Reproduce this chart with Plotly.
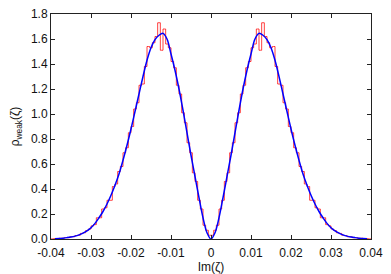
import plotly.graph_objects as go

# Smooth theory curve
curve_x = [-0.039, -0.038, -0.037, -0.036, -0.035, -0.034, -0.033, -0.032, -0.031, -0.030,
           -0.029, -0.028, -0.027, -0.026, -0.025, -0.024, -0.023, -0.022, -0.021, -0.020,
           -0.019, -0.018, -0.017, -0.016, -0.015, -0.014, -0.013, -0.012, -0.011, -0.010,
           -0.009, -0.008, -0.007, -0.006, -0.005, -0.004, -0.003, -0.002, -0.001, 0.000,
           0.001, 0.002, 0.003, 0.004, 0.005, 0.006, 0.007, 0.008, 0.009, 0.010,
           0.011, 0.012, 0.013, 0.014, 0.015, 0.016, 0.017, 0.018, 0.019, 0.020,
           0.021, 0.022, 0.023, 0.024, 0.025, 0.026, 0.027, 0.028, 0.029, 0.030,
           0.031, 0.032, 0.033, 0.034, 0.035, 0.036, 0.037, 0.038, 0.039]
curve_y = [0.002, 0.004, 0.007, 0.011, 0.016, 0.023, 0.033, 0.047, 0.065, 0.090,
           0.125, 0.170, 0.220, 0.280, 0.350, 0.430, 0.520, 0.630, 0.750, 0.880,
           1.020, 1.160, 1.300, 1.430, 1.530, 1.595, 1.630, 1.645, 1.600, 1.480,
           1.350, 1.200, 1.030, 0.850, 0.670, 0.500, 0.330, 0.170, 0.050, 0.000,
           0.050, 0.170, 0.330, 0.500, 0.670, 0.850, 1.030, 1.200, 1.350, 1.480,
           1.600, 1.645, 1.630, 1.595, 1.530, 1.430, 1.300, 1.160, 1.020, 0.880,
           0.750, 0.630, 0.520, 0.430, 0.350, 0.280, 0.220, 0.170, 0.125, 0.090,
           0.065, 0.047, 0.033, 0.023, 0.016, 0.011, 0.007, 0.004, 0.002]

# Histogram: 120 bins on [-0.04, 0.04]
bin_lo = -0.04
bin_hi = 0.04
n_bins = 120
hist_pos = [0.03, 0.07, 0.11, 0.24, 0.31, 0.46, 0.53, 0.69, 0.77, 0.93,
            1.01, 1.16, 1.23, 1.37, 1.42, 1.53, 1.56, 1.68, 1.51, 1.73,
            1.62, 1.57, 1.53, 1.54, 1.38, 1.24, 1.23, 1.09, 1.04, 0.90,
            0.85, 0.73, 0.69, 0.58, 0.54, 0.44, 0.42, 0.31, 0.31, 0.25,
            0.24, 0.17, 0.17, 0.115, 0.105, 0.08, 0.068, 0.05, 0.045, 0.03,
            0.028, 0.018, 0.018, 0.010, 0.011, 0.006, 0.006, 0.003, 0.003, 0.001]
hist_neg = [0.001, 0.003, 0.003, 0.006, 0.006, 0.011, 0.010, 0.018, 0.018, 0.028,
            0.03, 0.045, 0.05, 0.068, 0.08, 0.105, 0.115, 0.17, 0.17, 0.24,
            0.25, 0.31, 0.31, 0.42, 0.44, 0.54, 0.58, 0.69, 0.73, 0.85,
            0.90, 1.04, 1.09, 1.23, 1.24, 1.38, 1.54, 1.53, 1.57, 1.62,
            1.73, 1.51, 1.68, 1.56, 1.53, 1.42, 1.37, 1.23, 1.16, 1.01,
            0.93, 0.77, 0.69, 0.53, 0.46, 0.31, 0.24, 0.11, 0.07, 0.03]
hist_y = hist_neg + hist_pos

x_ticks = [-0.04, -0.03, -0.02, -0.01, 0, 0.01, 0.02, 0.03, 0.04]
x_tick_labels = ["-0.04", "-0.03", "-0.02", "-0.01", "0", "0.01", "0.02", "0.03", "0.04"]
y_ticks = [0.0, 0.2, 0.4, 0.6, 0.8, 1.0, 1.2, 1.4, 1.6, 1.8]
y_tick_labels = ["0.0", "0.2", "0.4", "0.6", "0.8", "1.0", "1.2", "1.4", "1.6", "1.8"]

w = (bin_hi - bin_lo) / n_bins
centers = [bin_lo + (i + 0.5) * w for i in range(n_bins)]
hx = [bin_lo] + centers + [bin_hi]
hy = [0.0] + hist_y + [0.0]

fig = go.Figure()
fig.add_trace(go.Scatter(x=hx, y=hy, mode="lines", line_shape="hvh",
                         line=dict(color="rgba(255,0,0,0.75)", width=1),
                         hoverinfo="skip", showlegend=False))
fig.add_trace(go.Scatter(x=curve_x, y=curve_y, mode="lines", line_shape="spline",
                         line=dict(color="#0000ff", width=1.5),
                         showlegend=False))

axis_common = dict(showline=True, linecolor="#222222", linewidth=1, mirror="ticks",
                   ticks="inside", ticklen=4, tickcolor="#222222", showgrid=False,
                   zeroline=False, automargin=False, ticklabeloverflow="allow",
                   tickfont=dict(size=12, color="#111111"))

fig.update_xaxes(range=[-0.04, 0.04], tickvals=x_ticks, ticktext=x_tick_labels,
                 ticklabelstandoff=3,
                 title=dict(text="Im(ζ)", font=dict(size=12, color="#111111"), standoff=2),
                 **axis_common)
fig.update_yaxes(range=[0, 1.8], tickvals=y_ticks, ticktext=y_tick_labels,
                 title=dict(text="ρ<sub>weak</sub>(ζ)", font=dict(size=12, color="#111111"), standoff=10),
                 **axis_common)

# page has an 8px body margin, so the figure is sized/offset to compensate
fig.update_layout(width=383, height=266, margin=dict(l=43, r=20, t=6, b=35),
                  paper_bgcolor="white", plot_bgcolor="white",
                  font=dict(family="Liberation Sans, Arial, sans-serif", size=12))

fig.write_html("out.html")
